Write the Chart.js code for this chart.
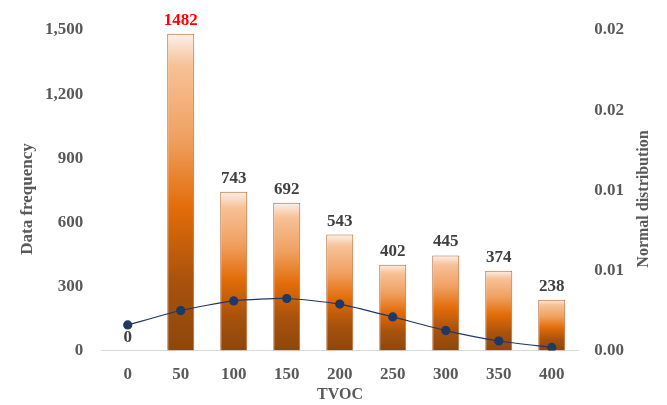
<!DOCTYPE html>
<html>
<head>
<meta charset="utf-8">
<script src="https://cdn.jsdelivr.net/npm/chart.js@4.4.1/dist/chart.umd.min.js"></script>
<style>
  html, body { margin: 0; padding: 0; background: #ffffff; }
  #wrap { width: 667px; height: 405px; }
</style>
</head>
<body>
<div id="wrap"><canvas id="myChart" width="667" height="405"></canvas></div>
<script>
// TVOC bins and counts
const tvocBins = ['0', '50', '100', '150', '200', '250', '300', '350', '400'];
const frequency = [0, 1482, 743, 692, 543, 402, 445, 374, 238];
// normal distribution curve (right axis)
const normalDist = [0.0016, 0.0025, 0.0031, 0.00325, 0.0029, 0.0021, 0.00125, 0.0006, 0.0002];
const rightTickLabels = ['0.00', '0.01', '0.01', '0.02', '0.02'];

const serif = "'Liberation Serif', 'Times New Roman', serif";
const grey = '#595959';

// orange gradient per bar, from top of the bar down to the axis
function barGradient(ctx) {
  const chart = ctx.chart;
  if (!chart.chartArea) return '#e36c09';
  const y = chart.scales.y;
  const top = y.getPixelForValue(ctx.raw);
  const bottom = y.getPixelForValue(0);
  if (bottom - top < 1) return '#e36c09';
  const g = chart.ctx.createLinearGradient(0, top, 0, bottom);
  g.addColorStop(0, '#fbf1ea');
  g.addColorStop(0.1, '#f7c197');
  g.addColorStop(0.33, '#f0a060');
  g.addColorStop(0.55, '#e36c09');
  g.addColorStop(0.78, '#a9520c');
  g.addColorStop(1, '#8c470c');
  return g;
}

// value labels above bars + axis titles
const labelsPlugin = {
  id: 'labelsPlugin',
  afterDatasetsDraw(chart) {
    const c = chart.ctx;
    const meta = chart.getDatasetMeta(1);
    c.save();
    c.font = 'bold 17px ' + serif;
    c.textAlign = 'center';
    c.textBaseline = 'alphabetic';
    meta.data.forEach((bar, i) => {
      c.fillStyle = i === 1 ? '#ff0000' : '#404040';
      c.fillText(String(frequency[i]), bar.x, bar.y - 9);
    });

    c.fillStyle = grey;
    c.textBaseline = 'middle';
    // left title
    c.save();
    c.font = 'bold 17px ' + serif;
    c.translate(28, 199);
    c.rotate(-Math.PI / 2);
    c.fillText('Data frequency', 0, 0);
    c.restore();
    // right title
    c.save();
    c.font = 'bold 16px ' + serif;
    c.translate(644, 199);
    c.rotate(-Math.PI / 2);
    c.fillText('Normal distribution', 0, 0);
    c.restore();
    // bottom title
    c.font = 'bold 16px ' + serif;
    c.fillText('TVOC', 340, 395);
    c.restore();
  }
};

new Chart(document.getElementById('myChart'), {
  data: {
    labels: tvocBins,
    datasets: [
      {
        type: 'line',
        label: 'Normal distribution',
        data: normalDist,
        yAxisID: 'y1',
        borderColor: '#203864',
        borderWidth: 1.2,
        pointRadius: 4,
        pointBackgroundColor: '#1f3864',
        pointBorderColor: '#1f3864',
        tension: 0.2,
        order: 0
      },
      {
        type: 'bar',
        label: 'Data frequency',
        data: frequency,
        yAxisID: 'y',
        backgroundColor: barGradient,
        borderColor: '#b8672e',
        borderWidth: 1,
        barPercentage: 0.51,
        categoryPercentage: 1,
        order: 1
      }
    ]
  },
  options: {
    responsive: false,
    animation: false,
    layout: { padding: { top: 30, left: 35, right: 35, bottom: 14 } },
    plugins: {
      legend: { display: false },
      tooltip: { enabled: false }
    },
    scales: {
      x: {
        grid: { display: false },
        border: { color: '#d9d9d9', width: 1 },
        ticks: { color: grey, font: { family: serif, size: 17, weight: 'bold' }, padding: 6 }
      },
      y: {
        position: 'left',
        min: 0,
        max: 1500,
        grid: { display: false },
        border: { display: false },
        ticks: {
          stepSize: 300,
          color: grey,
          padding: 10,
          font: { family: serif, size: 17, weight: 'bold' },
          callback: v => v.toLocaleString('en-US')
        }
      },
      y1: {
        position: 'right',
        min: 0,
        max: 0.02,
        grid: { display: false },
        border: { display: false },
        ticks: {
          stepSize: 0.005,
          color: grey,
          padding: 8,
          font: { family: serif, size: 17, weight: 'bold' },
          callback: (v, i) => rightTickLabels[i]
        }
      }
    }
  },
  plugins: [labelsPlugin]
});
</script>
</body>
</html>
